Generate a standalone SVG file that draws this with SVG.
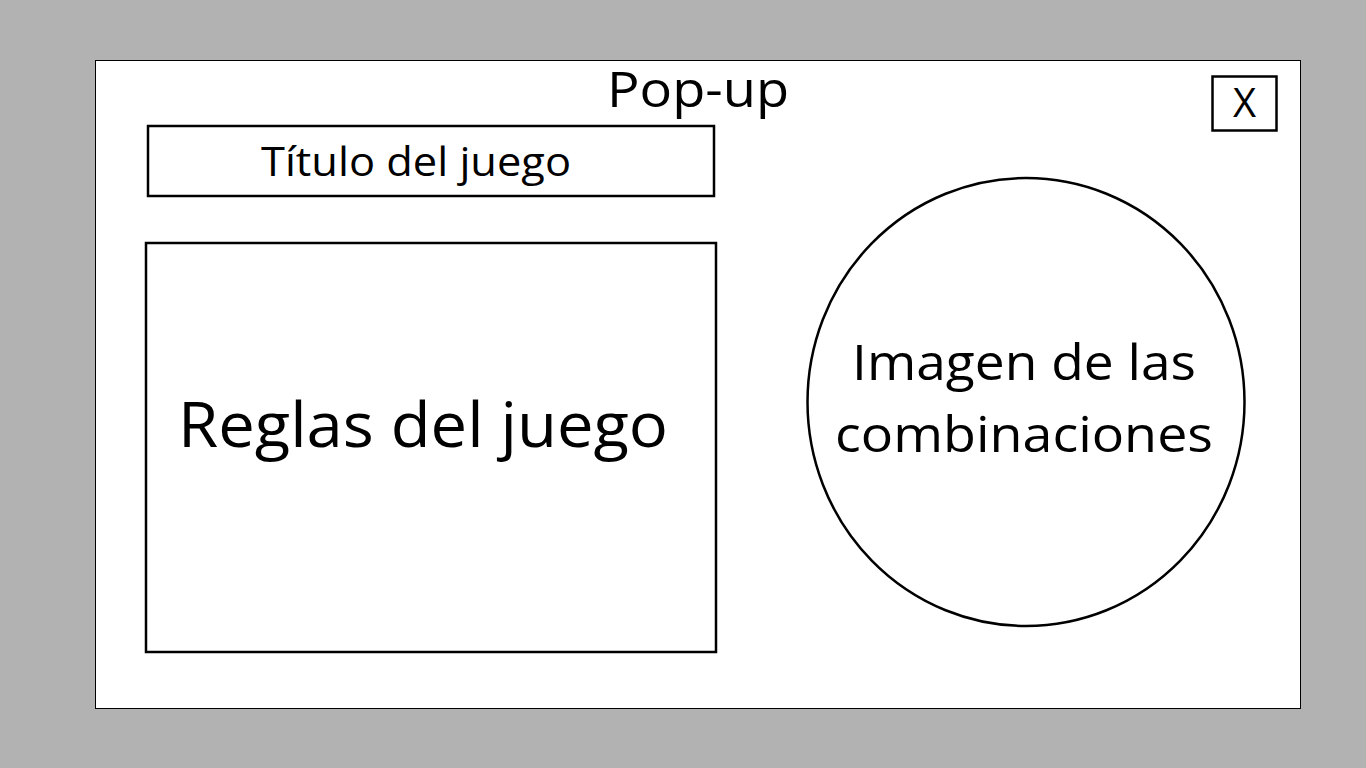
<svg xmlns="http://www.w3.org/2000/svg" width="1366" height="768" viewBox="0 0 1366 768">
<style>
.box{fill:#fff;stroke:#000;stroke-width:2.5}
.t{font-family:"Open Sans","Liberation Sans",sans-serif;fill:#000;text-anchor:middle}
</style>
<rect x="0" y="0" width="1366" height="768" fill="#b2b2b2"/>
<g id="popup">
<rect x="95.5" y="60.5" width="1205" height="648" fill="#fff" stroke="#000" stroke-width="1"/>
<text class="t" x="698" y="107" font-size="50" textLength="182" lengthAdjust="spacingAndGlyphs">Pop-up</text>
</g>
<g id="close">
<rect class="box" x="1212.5" y="76.5" width="64" height="54"/>
<text class="t" x="1244.5" y="117" font-size="40">X</text>
</g>
<g id="titulo">
<rect class="box" x="148" y="126" width="566" height="70"/>
<text class="t" x="416" y="176" font-size="40" textLength="310" lengthAdjust="spacingAndGlyphs">Título del juego</text>
</g>
<g id="reglas">
<rect class="box" x="146" y="243" width="570" height="409"/>
<text class="t" x="423" y="447" font-size="62" textLength="490" lengthAdjust="spacingAndGlyphs">Reglas del juego</text>
</g>
<g id="imagen">
<ellipse class="box" cx="1026" cy="402" rx="218.5" ry="224"/>
<text class="t" x="1024" y="380" font-size="50" textLength="344" lengthAdjust="spacingAndGlyphs">Imagen de las</text>
<text class="t" x="1024" y="452" font-size="50" textLength="378" lengthAdjust="spacingAndGlyphs">combinaciones</text>
</g>
<g id="connectors"/>
</svg>
